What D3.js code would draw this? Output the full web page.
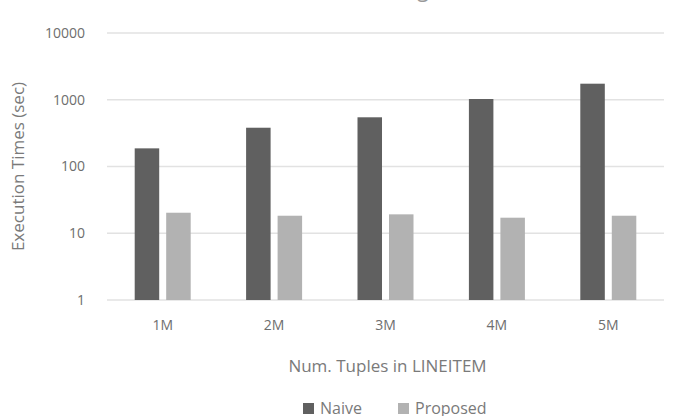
<!DOCTYPE html>
<html>
<head>
<meta charset="utf-8">
<script src="https://cdn.jsdelivr.net/npm/d3@7"></script>
<style>
  body { margin: 0; background: #fff; }
  svg { display: block; font-family: "Open Sans", sans-serif; }
</style>
</head>
<body>
<div id="chart"></div>
<script>
// data
var categories = ["1M", "2M", "3M", "4M", "5M"];
var seriesNames = ["Naive", "Proposed"];
var naive = [187, 381, 546, 1026, 1740];
var proposed = [20.3, 18.3, 19.2, 17.1, 18.3];
var yTicks = [1, 10, 100, 1000, 10000];

var width = 677,
    height = 416;
var margin = { top: 33, right: 13, bottom: 116, left: 107 };
var plotW = width - margin.left - margin.right,
    plotH = height - margin.top - margin.bottom;

var svg = d3.select("#chart")
    .append("svg")
    .attr("width", width)
    .attr("height", height);

// title is cut off by the top edge, only descenders show
svg.append("text")
    .attr("x", 392)
    .attr("y", -3.5)
    .attr("text-anchor", "middle")
    .style("font-size", "21px")
    .style("fill", "#999")
    .text("Execution Times (Log Scale, TPC-H)");

var g = svg.append("g")
    .attr("transform", "translate(" + margin.left + "," + margin.top + ")");

var y = d3.scaleLog()
    .domain([1, 10000])
    .range([plotH, 0]);

var x0 = d3.scaleBand()
    .domain(categories)
    .range([0, plotW]);

var groupW = 56;
var x1 = d3.scaleBand()
    .domain(seriesNames)
    .range([(x0.bandwidth() - groupW) / 2, (x0.bandwidth() + groupW) / 2])
    .paddingInner(0.222);

var color = d3.scaleOrdinal()
    .domain(seriesNames)
    .range(["#606060", "#b2b2b2"]);

// gridlines
g.selectAll(".grid")
    .data(yTicks)
    .enter()
    .append("line")
    .attr("x1", 0)
    .attr("x2", plotW)
    .attr("y1", function (d) { return y(d); })
    .attr("y2", function (d) { return y(d); })
    .attr("stroke", "#e2e2e2")
    .attr("stroke-width", 1.5);

// y axis labels
var yAxis = g.append("g")
    .call(d3.axisLeft(y).tickValues(yTicks).tickFormat(d3.format("d")).tickSize(0).tickPadding(22));
yAxis.select(".domain").remove();
yAxis.selectAll("text")
    .style("font-size", "14px")
    .style("fill", "#6e6e6e")
    .style("font-family", "Open Sans, sans-serif");

// x axis labels
var xAxis = g.append("g")
    .attr("transform", "translate(0," + plotH + ")")
    .call(d3.axisBottom(x0).tickSize(0).tickPadding(20));
xAxis.select(".domain").remove();
xAxis.selectAll("text")
    .style("font-size", "14px")
    .style("fill", "#6e6e6e")
    .style("font-family", "Open Sans, sans-serif");

// bars
var rows = categories.map(function (c, i) {
    return { cat: c, values: [
        { key: "Naive", value: naive[i] },
        { key: "Proposed", value: proposed[i] }
    ] };
});

g.selectAll(".group")
    .data(rows)
    .enter()
    .append("g")
    .attr("transform", function (d) { return "translate(" + x0(d.cat) + ",0)"; })
    .selectAll("rect")
    .data(function (d) { return d.values; })
    .enter()
    .append("rect")
    .attr("x", function (d) { return x1(d.key); })
    .attr("y", function (d) { return y(d.value); })
    .attr("width", x1.bandwidth())
    .attr("height", function (d) { return y(1) - y(d.value); })
    .attr("fill", function (d) { return color(d.key); });

// axis titles
svg.append("text")
    .attr("transform", "translate(24," + (margin.top + plotH / 2) + ") rotate(-90)")
    .attr("text-anchor", "middle")
    .style("font-size", "17px")
    .style("fill", "#7a7a7a")
    .text("Execution Times (sec)");

svg.append("text")
    .attr("x", margin.left + plotW / 2 + 2)
    .attr("y", 372)
    .attr("text-anchor", "middle")
    .style("font-size", "17px")
    .style("fill", "#7a7a7a")
    .text("Num. Tuples in LINEITEM");

// legend
var legend = svg.append("g")
    .attr("transform", "translate(303,414)");
var items = legend.selectAll("g")
    .data(seriesNames)
    .enter()
    .append("g")
    .attr("transform", function (d, i) { return "translate(" + (i * 95) + ",0)"; });
items.append("rect")
    .attr("x", 0)
    .attr("y", -11)
    .attr("width", 11)
    .attr("height", 11)
    .attr("fill", function (d) { return color(d); });
items.append("text")
    .attr("x", 17)
    .attr("y", 0)
    .style("font-size", "16px")
    .style("fill", "#7a7a7a")
    .text(function (d) { return d; });
</script>
</body>
</html>
